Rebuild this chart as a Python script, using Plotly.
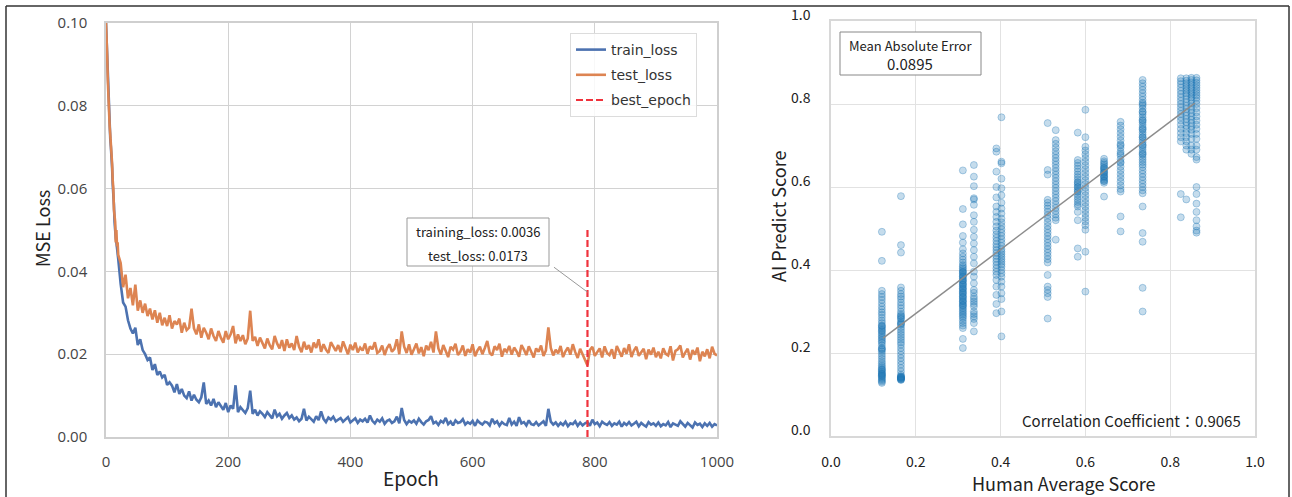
import plotly.graph_objects as go

W, H = 1292, 497

# ---------------- left panel data (loss values in units of 1e-4) ----------------
epochs = list(range(0, 21)) + list(range(24, 1001, 4))

train_loss_e4 = [
    1000, 960, 900, 850, 800, 770, 740, 720, 700, 680, 650, 610, 590, 560, 520, 490, 480, 470, 450, 440, 430,
    370, 325, 315, 282, 262, 250, 264, 222, 236, 210,
    200, 186, 192, 162, 176, 150, 158, 144, 150, 126,
    132, 124, 108, 128, 104, 116, 100, 94, 110, 88,
    102, 90, 84, 96, 132, 80, 88, 76, 92, 72,
    84, 74, 66, 82, 60, 76, 68, 125, 60, 72,
    64, 58, 70, 112, 56, 66, 52, 62, 56, 48,
    60, 52, 45, 66, 50, 56, 44, 52, 58, 46,
    52, 42, 47, 38, 44, 68, 40, 49, 43, 37,
    50, 41, 62, 44, 36, 47, 42, 49, 38, 41,
    46, 37, 43, 48, 35, 40, 45, 34, 42, 38,
    44, 35, 52, 39, 33, 42, 37, 45, 32, 39,
    42, 34, 38, 49, 33, 70, 41, 31, 39, 35,
    40, 32, 44, 36, 30, 38, 41, 50, 33, 37,
    29, 39, 35, 46, 31, 37, 28, 40, 34, 36,
    43, 30, 36, 32, 39, 27, 40, 34, 30, 37,
    35, 28, 44, 33, 38, 27, 36, 31, 29, 46,
    30, 37, 27, 48, 33, 36, 28, 40, 31, 29,
    36, 28, 34, 38, 27, 68, 37, 30, 35, 27,
    34, 29, 37, 26, 33, 31, 38, 27, 35, 28,
    33, 36, 27, 42, 31, 35, 26, 37, 32, 29,
    36, 27, 33, 30, 37, 25, 34, 29, 36, 28,
    32, 37, 26, 34, 29, 25, 36, 30, 33, 27,
    35, 26, 31, 28, 36, 24, 33, 29, 27, 38,
    30, 25, 34, 28, 23, 35, 29, 32, 24, 33,
    27, 34, 25, 31, 28,
]

test_loss_e4 = [
    1000, 970, 920, 860, 810, 780, 750, 730, 710, 690, 660, 620, 600, 550, 530, 520, 470, 500, 460, 470, 440,
    420, 362, 392, 335, 360, 318, 368, 305, 330, 300,
    322, 292, 310, 284, 306, 276, 300, 270, 288, 268,
    294, 262, 280, 272, 286, 252, 276, 258, 264, 310,
    262, 248, 272, 240, 264, 252, 236, 262, 244, 232,
    256, 240, 228, 256, 236, 248, 268, 226, 248, 232,
    246, 224, 238, 305, 232, 242, 220, 240, 226, 214,
    238, 222, 212, 244, 226, 214, 234, 208, 236, 216,
    226, 210, 244, 218, 205, 230, 212, 222, 204, 228,
    215, 236, 206, 224, 211, 203, 229, 217, 208, 222,
    205, 231, 214, 200, 223, 210, 228, 204, 216, 209,
    226, 201, 219, 212, 229, 203, 208, 221, 198, 215,
    224, 206, 213, 236, 200, 255, 218, 203, 224, 199,
    212, 226, 202, 217, 195, 221, 210, 230, 204, 255,
    214, 199, 222, 207, 193, 218, 211, 225, 198, 206,
    221, 196, 212, 204, 224, 195, 209, 218, 200, 215,
    232, 203, 197, 219, 210, 225, 194, 213, 206, 220,
    199, 216, 207, 194, 222, 211, 198, 219, 203, 192,
    214, 206, 221, 196, 209, 265, 215, 197, 211, 202,
    220, 193, 207, 216, 199, 224, 205, 191, 213, 200,
    190, 173, 210, 218, 196, 206, 214, 192, 219, 203,
    198, 212, 189, 220, 205, 194, 215, 201, 224, 193,
    209, 218, 196, 204, 213, 188, 211, 199, 216, 193,
    206, 190, 214, 201, 197, 219, 185, 208, 212, 221,
    192, 204, 213, 187, 210, 199, 216, 183, 206, 195,
    212, 190, 218, 201, 197,
]

best_epoch = 788
best_line_y = [0.0, 0.05]
best_train_loss = 0.0036
best_test_loss = 0.0173
legend_names = ["train_loss", "test_loss", "best_epoch"]

if not (len(epochs) == len(train_loss_e4) == len(test_loss_e4)):
    raise ValueError("series length mismatch")

# ---------------- right panel data (predictions in units of 1e-3) ----------------
human_scores = [0.120, 0.165, 0.311, 0.337, 0.390, 0.402, 0.511, 0.530, 0.582,
                0.600, 0.644, 0.683, 0.735, 0.825, 0.838, 0.850, 0.862]

pred_a = [492, 422, 350, 342, 335, 328, 320, 312, 305, 298, 292, 285, 278, 272, 266, 262, 258, 252,
          248, 244, 240, 236, 232, 228, 224, 218, 212, 208, 204, 198, 192, 186, 180, 175, 170, 166,
          162, 158, 155, 152, 149, 146, 143, 140, 137, 134, 131, 128, 160, 150, 145, 265, 255, 210]
pred_b = [578, 460, 442, 358, 350, 342, 336, 330, 322, 315, 308, 300, 294, 288, 282, 276, 272, 268,
          262, 256, 250, 244, 238, 232, 226, 220, 212, 204, 196, 188, 180, 172, 164, 156, 148, 144,
          142, 140, 139, 138, 137, 136, 135, 141, 143, 284, 290, 270]
pred_c = [640, 547, 510, 482, 466, 450, 440, 432, 425, 418, 412, 408, 404, 400, 396, 392, 388, 384,
          380, 376, 372, 368, 364, 360, 356, 352, 348, 344, 340, 336, 332, 328, 324, 320, 316, 312,
          308, 304, 300, 296, 292, 288, 284, 278, 272, 266, 260, 234, 212, 395, 385, 375, 365, 355,
          345, 335, 325, 315]
pred_d = [653, 625, 602, 573, 570, 557, 532, 516, 497, 480, 464, 448, 432, 416, 396, 384, 368, 352,
          336, 324, 312, 300, 288, 272, 252, 330, 318, 294, 282, 345]
pred_e1 = [693, 685, 637, 600, 575, 553, 540, 528, 516, 505, 495, 486, 478, 470, 462, 455, 448, 441,
           434, 427, 420, 412, 404, 396, 388, 376, 360, 340, 318, 296]
pred_e2 = [768, 661, 657, 620, 597, 580, 562, 548, 536, 524, 515, 506, 498, 490, 482, 474, 466, 458,
           450, 444, 438, 432, 426, 420, 414, 408, 400, 392, 384, 372, 360, 344, 330, 300, 240]
pred_f = [754, 641, 630, 569, 562, 555, 548, 540, 532, 524, 515, 506, 498, 490, 482, 474, 466, 458,
          450, 442, 434, 426, 418, 388, 360, 352, 344, 335, 283]
pred_g = [737, 713, 704, 695, 686, 678, 670, 662, 654, 646, 638, 630, 622, 614, 606, 598, 590, 582,
          574, 566, 558, 550, 542, 534, 526, 520, 473]
pred_h = [731, 665, 658, 651, 644, 637, 630, 624, 618, 612, 606, 600, 594, 588, 582, 576, 570, 564,
          558, 553, 540, 520, 452, 432, 600, 610, 590]
pred_i = [786, 720, 697, 688, 679, 670, 661, 652, 643, 634, 625, 616, 607, 598, 589, 580, 571, 562,
          553, 544, 535, 526, 517, 508, 497, 444, 348]
pred_j = [668, 662, 658, 654, 650, 646, 642, 638, 634, 630, 626, 622, 618, 614, 610, 577, 645, 635,
          625, 615]
pred_k = [757, 748, 739, 730, 721, 712, 703, 694, 685, 676, 667, 658, 649, 640, 631, 622, 613, 604,
          595, 589, 529, 493, 700, 680, 660]
pred_l = [858, 850, 842, 834, 826, 818, 810, 803, 796, 789, 782, 775, 768, 762, 756, 750, 744, 738,
          732, 726, 720, 714, 708, 702, 696, 690, 684, 678, 672, 666, 660, 654, 648, 640, 632, 624,
          616, 608, 600, 592, 585, 553, 489, 468, 357, 300, 760, 740, 720, 700, 680, 780, 800]
pred_m1 = [862, 855, 848, 840, 832, 824, 816, 808, 800, 792, 784, 776, 768, 760, 750, 740, 730, 720,
           710, 583, 527]
pred_m2 = [862, 856, 850, 844, 838, 832, 826, 820, 812, 804, 796, 788, 780, 772, 764, 756, 748, 740,
           730, 720, 710, 700, 690, 570]
pred_m3 = [863, 858, 852, 846, 840, 834, 828, 822, 816, 810, 802, 794, 786, 778, 770, 762, 754, 746,
           738, 728, 716, 700, 690, 680]
pred_m4 = [863, 857, 851, 845, 839, 833, 827, 821, 815, 808, 800, 790, 780, 770, 760, 750, 740, 728,
           716, 700, 690, 672, 666, 600, 583, 560, 540, 520, 505, 495, 490]

predicted = [pred_a, pred_b, pred_c, pred_d, pred_e1, pred_e2, pred_f, pred_g, pred_h,
             pred_i, pred_j, pred_k, pred_l, pred_m1, pred_m2, pred_m3, pred_m4]

reg_x = [0.123, 0.858]
reg_y = [0.236, 0.802]
mae_value = 0.0895
corr_value = 0.9065

# ---------------- build figure ----------------
def px(x):
    return x / W


def py(y):
    return 1 - y / H


LEFT_FONT = "Noto Sans CJK JP"
TICK_FONT = "Open Sans"
RIGHT_FONT = "Noto Sans CJK JP"

C_TRAIN = "#4c72b0"
C_TEST = "#dd8452"
C_BEST = "#f0323c"

fig = go.Figure()

train = [v / 10000 for v in train_loss_e4]
test = [v / 10000 for v in test_loss_e4]

fig.add_trace(go.Scatter(x=epochs, y=train, mode="lines", name=legend_names[0],
                         line=dict(color=C_TRAIN, width=2.6), legendgroup="a",
                         xaxis="x", yaxis="y"))
fig.add_trace(go.Scatter(x=epochs, y=test, mode="lines", name=legend_names[1],
                         line=dict(color=C_TEST, width=2.6), legendgroup="b",
                         xaxis="x", yaxis="y"))
fig.add_trace(go.Scatter(x=[best_epoch, best_epoch], y=best_line_y, mode="lines",
                         name=legend_names[2], legendgroup="c",
                         line=dict(color=C_BEST, width=2.2, dash="7px,3px"),
                         xaxis="x", yaxis="y"))

sx, sy = [], []
for h, preds in zip(human_scores, predicted):
    sx += [h] * len(preds)
    sy += [p / 1000 for p in preds]

fig.add_trace(go.Scatter(x=sx, y=sy, mode="markers", showlegend=False,
                         marker=dict(size=7, color="rgba(31,119,180,0.26)",
                                     line=dict(color="rgba(31,119,180,0.32)", width=1)),
                         xaxis="x2", yaxis="y2"))
fig.add_trace(go.Scatter(x=reg_x, y=reg_y, mode="lines", showlegend=False,
                         line=dict(color="#8c8c8c", width=1.5),
                         xaxis="x2", yaxis="y2"))

left_axis = dict(showgrid=True, gridcolor="#d2d2d2", gridwidth=1, zeroline=False,
                 showline=True, linecolor="#cfcfcf", linewidth=1.5, mirror=True,
                 ticks="", tickfont=dict(family=TICK_FONT, size=15, color="#444"))
right_axis = dict(showgrid=True, gridcolor="#e2e2e2", gridwidth=1, zeroline=False,
                  showline=True, linecolor="#d8d8d8", linewidth=1.5, mirror=True,
                  ticks="", tickfont=dict(family=RIGHT_FONT, size=14, color="#222"))

fig.update_layout(
    width=W, height=H, autosize=False,
    margin=dict(l=0, r=0, t=0, b=0, autoexpand=False),
    paper_bgcolor="white", plot_bgcolor="white",
    xaxis=dict(domain=[px(106), px(717)], range=[0, 1000], tickvals=[0, 200, 400, 600, 800, 1000],
               ticklabelstandoff=10, anchor="y", automargin=False, **left_axis),
    yaxis=dict(domain=[py(437), py(23)], range=[0, 0.1], tickvals=[0, 0.02, 0.04, 0.06, 0.08, 0.1],
               tickformat=".2f", ticklabelstandoff=14, anchor="x", automargin=False, **left_axis),
    xaxis2=dict(domain=[px(831), px(1255)], range=[0, 1], tickvals=[0, 0.2, 0.4, 0.6, 0.8, 1.0],
                tickformat=".1f", ticklabelstandoff=12, anchor="y2", automargin=False, **right_axis),
    yaxis2=dict(domain=[py(436), py(21)], range=[0, 1], tickvals=[0, 0.2, 0.4, 0.6, 0.8, 1.0],
                tickformat=".1f", ticklabelstandoff=16, ticklabelshift=-6, anchor="x2",
                automargin=False, **right_axis),
    legend=dict(x=px(570), y=py(33), xanchor="left", yanchor="top",
                bgcolor="rgba(255,255,255,0.85)", bordercolor="#dcdcdc", borderwidth=1,
                font=dict(family="DejaVu Sans", size=14, color="#333"),
                tracegroupgap=4, itemwidth=30),
    showlegend=True,
)

shapes = [
    # outer frame
    dict(type="line", xref="paper", yref="paper", x0=px(6), x1=px(1289), y0=py(6), y1=py(6),
         line=dict(color="#333", width=1.5)),
    dict(type="line", xref="paper", yref="paper", x0=px(6), x1=px(6), y0=py(6), y1=0,
         line=dict(color="#333", width=1.5)),
    dict(type="line", xref="paper", yref="paper", x0=px(1289), x1=px(1289), y0=py(6), y1=0,
         line=dict(color="#333", width=1.5)),
    # annotation box (left)
    dict(type="rect", xref="paper", yref="paper", x0=px(407), x1=px(549), y0=py(266), y1=py(218),
         line=dict(color="#999", width=1), fillcolor="white"),
    # MAE box (right)
    dict(type="rect", xref="paper", yref="paper", x0=px(840), x1=px(981), y0=py(75), y1=py(32),
         line=dict(color="#888", width=1), fillcolor="white"),
]
fig.update_layout(shapes=shapes)


def label(text, x, y, size, family, angle=0, xanchor="center"):
    return dict(text=text, x=px(x), y=py(y), xref="paper", yref="paper", showarrow=False,
                xanchor=xanchor, yanchor="middle", textangle=angle,
                font=dict(family=family, size=size, color="#222"))


annotations = [
    label("Epoch", 411, 477, 19, LEFT_FONT),
    label("MSE Loss", 42, 229, 18, LEFT_FONT, angle=-90),
    label(f"training_loss: {best_train_loss:.4f}", 478, 231, 13, LEFT_FONT),
    label(f"test_loss: {best_test_loss:.4f}", 478, 255, 13, LEFT_FONT),
    dict(text="", x=best_epoch, y=0.035, xref="x", yref="y", showarrow=True, arrowhead=0,
         ax=-35, ay=-26, arrowwidth=1, arrowcolor="#999"),
    label("Human Average Score", 1064, 483, 18, RIGHT_FONT),
    label("AI Predict Score", 778, 217, 18, RIGHT_FONT, angle=-90),
    label("Mean Absolute Error", 910, 45, 13, RIGHT_FONT),
    label(f"{mae_value:.4f}", 910, 64, 15, RIGHT_FONT),
    label(f"Correlation Coefficient：{corr_value:.4f}", 1243, 420, 15, RIGHT_FONT, xanchor="right"),
]
fig.update_layout(annotations=annotations)

page_fix = ("document.body.style.margin='0';document.body.style.padding='0';"
            "document.documentElement.style.overflow='hidden';document.body.style.overflow='hidden';")

fig.write_html("out.html", post_script=page_fix)
